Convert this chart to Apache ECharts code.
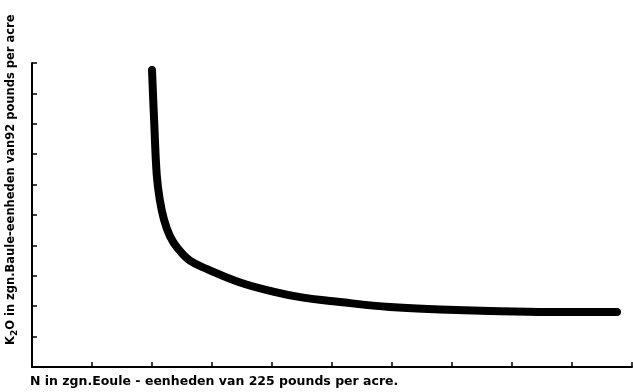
<!DOCTYPE html>
<html>
<head>
<meta charset="utf-8">
<script src="https://cdn.jsdelivr.net/npm/echarts@6/dist/echarts.min.js"></script>
<style>
  html, body { margin: 0; padding: 0; background: #fff; }
  #chart { width: 633px; height: 392px; }
</style>
</head>
<body>
<div id="chart"></div>
<script>
// N (Baule-eenheden) vs K2O (Baule-eenheden)
const nUnits = [2.0, 2.04, 2.08, 2.13, 2.2, 2.3, 2.43, 2.63, 2.92, 3.47, 4.02, 4.47, 5.13, 5.97, 6.8, 7.63, 8.63, 9.75];
const k2oUnits = [9.77, 7.9, 6.3, 5.5, 4.85, 4.3, 3.9, 3.5, 3.22, 2.78, 2.48, 2.3, 2.14, 1.97, 1.89, 1.84, 1.81, 1.81];

const xTitle = "N in zgn.Eoule - eenheden van 225 pounds per acre.";
const yTitleRest = " in zgn.Baule-eenheden van92 pounds per acre";

const chart = echarts.init(document.getElementById("chart"));

const axisBase = {
  type: "value",
  min: 0,
  max: 10,
  interval: 1,
  axisLine: { show: true, lineStyle: { color: "#000", width: 2 } },
  axisTick: { show: true, inside: true, length: 5, lineStyle: { color: "#000", width: 1.5 } },
  axisLabel: { show: false },
  splitLine: { show: false }
};

const font = "'DejaVu Sans', sans-serif";

chart.setOption({
  animation: false,
  backgroundColor: "#fff",
  grid: { left: 32, right: 1, top: 63, bottom: 25 },
  xAxis: { ...axisBase },
  yAxis: { ...axisBase },
  series: [{
    type: "line",
    smooth: 0.4,
    showSymbol: false,
    data: nUnits.map((x, i) => [x, k2oUnits[i]]),
    lineStyle: { color: "#000", width: 8, cap: "round", join: "round" }
  }],
  graphic: [
    {
      type: "text",
      left: 30,
      top: 375,
      style: { text: xTitle, fill: "#000", font: "bold 12.5px " + font }
    },
    {
      type: "text",
      x: 11,
      y: 345,
      rotation: Math.PI / 2,
      style: {
        text: "{k|K}{s|2}{k|O" + yTitleRest + "}",
        fill: "#000",
        verticalAlign: "middle",
        rich: {
          k: { fill: "#000", font: "bold 11.5px " + font },
          s: { fill: "#000", font: "bold 9px " + font, padding: [8, 0, 0, 0] }
        }
      }
    }
  ]
});
</script>
</body>
</html>
